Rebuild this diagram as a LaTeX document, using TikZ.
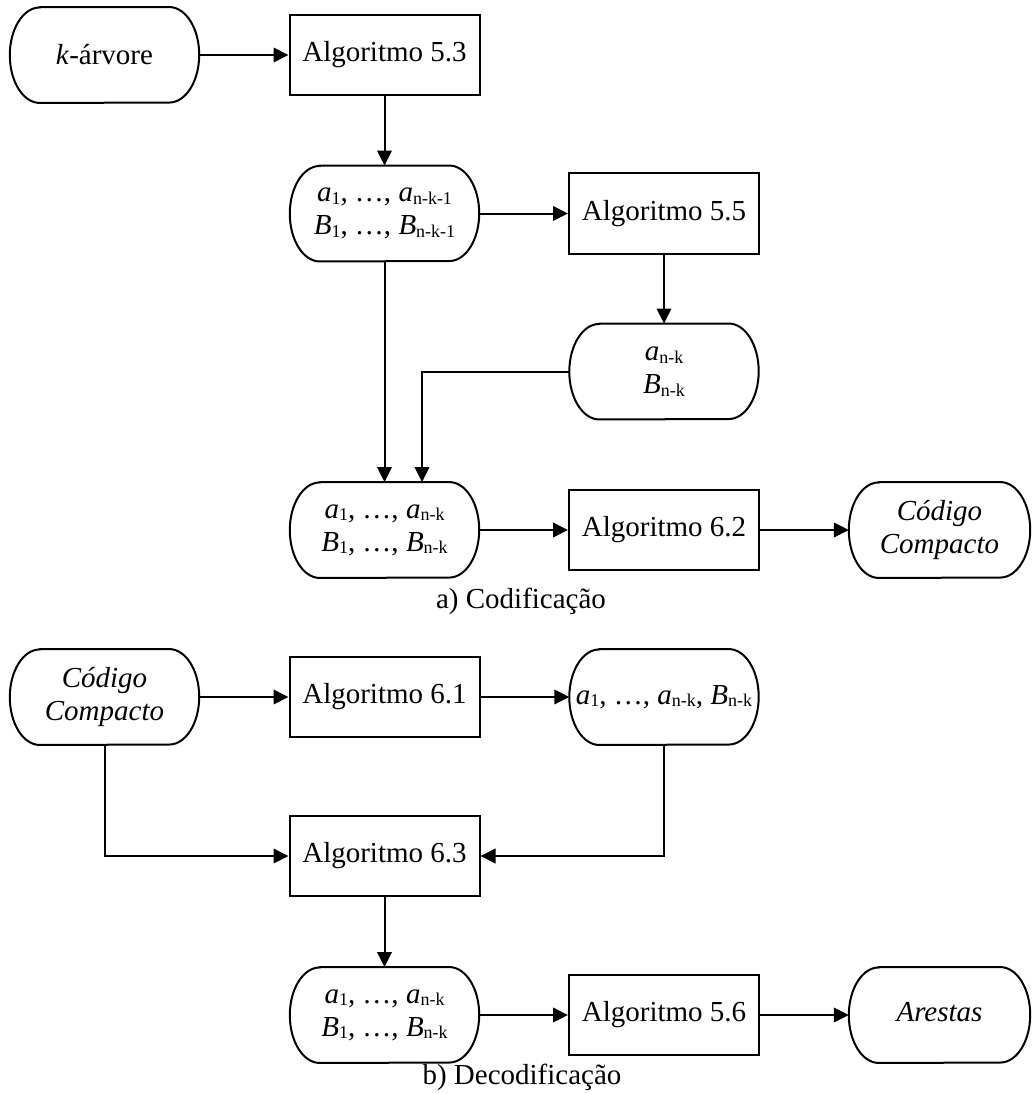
\documentclass[tikz,border=0pt]{standalone}
\usepackage{fontspec}
\setmainfont{Liberation Serif}
\usetikzlibrary{arrows.meta}
% subscript in the smaller upright size, slightly lowered
\newcommand\sbs[1]{\raisebox{-2.5pt}{\fontsize{18}{18}\selectfont #1}}
% terminator outline (flat top and bottom, elliptical ends) around a named node
\newcommand\termoutline[1]{%
  \draw[line width=2pt] ([xshift=30pt]#1.north west) -- ([xshift=-30pt]#1.north east)
    arc[start angle=90,end angle=-90,x radius=30pt,y radius=47.75pt]
    -- ([xshift=30pt]#1.south west)
    arc[start angle=270,end angle=90,x radius=30pt,y radius=47.75pt] -- cycle;}
\begin{document}
\begin{tikzpicture}[x=1pt,y=-1pt,
  every node/.style={font=\fontsize{29}{33}\selectfont, inner sep=0pt, align=center},
  algbox/.style={draw, line width=2pt, minimum width=190pt, minimum height=80pt},
  term/.style={minimum width=189pt, minimum height=95.5pt},
  flow/.style={line width=2pt, -{Triangle[length=15pt,width=14.5pt]}}]
\useasboundingbox[fill=white] (0,0) rectangle (1032,1094);

% a) encoding
\node[term] (kt) at (104.5,55) {\textit{k}-árvore};
\node[algbox] (a53) at (384.5,55) {Algoritmo 5.3};
\node[term] (s1) at (384.5,213.5) {\textit{a}\sbs{1}, …, \textit{a}\sbs{n-k-1}\\\textit{B}\sbs{1}, …, \textit{B}\sbs{n-k-1}};
\node[algbox] (a55) at (664,213.5) {Algoritmo 5.5};
\node[term] (s2) at (664,371.5) {\textit{a}\sbs{n-k}\\\textit{B}\sbs{n-k}};
\node[term] (s3) at (384.5,530) {\textit{a}\sbs{1}, …, \textit{a}\sbs{n-k}\\\textit{B}\sbs{1}, …, \textit{B}\sbs{n-k}};
\node[algbox] (a62) at (664,530) {Algoritmo 6.2};
\node[term, minimum width=181pt] (cc1) at (939.5,530) {\textit{Código}\\\textit{Compacto}};
\node (capa) at (521,601) {a) Codificação};

% b) decoding
\node[term] (cc2) at (104.5,697) {\textit{Código}\\\textit{Compacto}};
\node[algbox] (a61) at (384.5,697) {Algoritmo 6.1};
\node[term] (s4) at (664,697) {\textit{a}\sbs{1}, …, \textit{a}\sbs{n-k}, \textit{B}\sbs{n-k}};
\node[algbox] (a63) at (384.5,856) {Algoritmo 6.3};
\node[term] (s5) at (384.5,1015) {\textit{a}\sbs{1}, …, \textit{a}\sbs{n-k}\\\textit{B}\sbs{1}, …, \textit{B}\sbs{n-k}};
\node[algbox] (a56) at (664,1015) {Algoritmo 5.6};
\node[term, minimum width=181pt] (ar) at (939.5,1015) {\raisebox{7pt}{\textit{Arestas}}};
\node (capb) at (522,1077) {b) Decodificação};

\foreach \n in {kt,s1,s2,s3,cc1,cc2,s4,s5,ar} {\termoutline{\n}}

% connectors
\draw[flow] (kt) -- (a53);
\draw[flow] (a53) -- (s1);
\draw[flow] (s1) -- (a55);
\draw[flow] (a55) -- (s2);
\draw[flow] (s1) -- (s3);
\coordinate (j1) at (422,371.5);
\draw[flow] (s2.west) -- (j1) -- (j1 |- s3.north);
\draw[flow] (s3) -- (a62);
\draw[flow] (a62) -- (cc1);

\draw[flow] (cc2) -- (a61);
\draw[flow] (a61) -- (s4);
\draw[flow] (cc2.south) |- (a63.west);
\draw[flow] (s4.south) |- (a63.east);
\draw[flow] (a63) -- (s5);
\draw[flow] (s5) -- (a56);
\draw[flow] (a56) -- (ar);
\end{tikzpicture}
\end{document}
